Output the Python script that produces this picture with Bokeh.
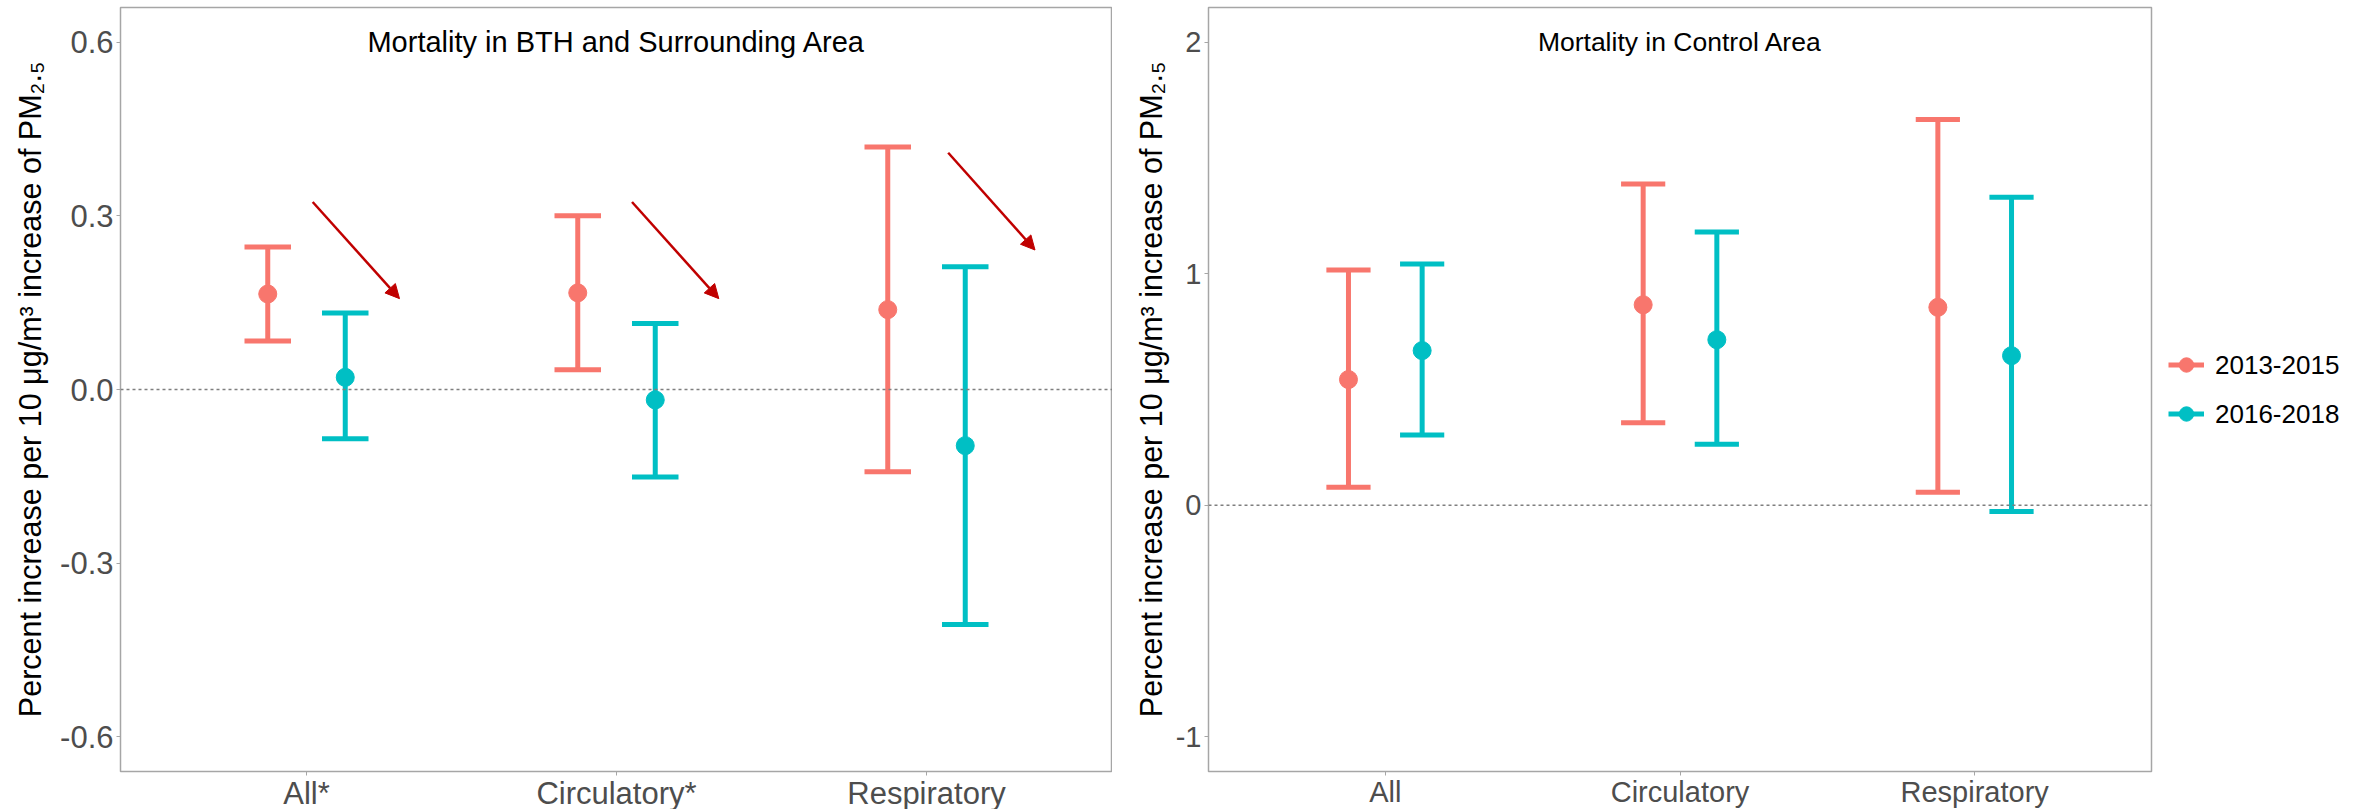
from bokeh.plotting import figure
from bokeh.models import (FactorRange, ColumnDataSource, Span, Arrow, NormalHead,
                          Legend, LegendItem, FixedTicker, Range1d)
from bokeh.layouts import row
from bokeh.transform import dodge
from bokeh.embed import file_html
from bokeh.resources import INLINE
from bokeh.core.properties import value

# ---------------- data ----------------
left_categories = ["All*", "Circulatory*", "Respiratory"]
right_categories = ["All", "Circulatory", "Respiratory"]
periods = ["2013-2015", "2016-2018"]

left_est_2013 = [0.165, 0.167, 0.138]
left_low_2013 = [0.084, 0.034, -0.142]
left_high_2013 = [0.246, 0.300, 0.419]
left_est_2016 = [0.021, -0.018, -0.097]
left_low_2016 = [-0.085, -0.151, -0.406]
left_high_2016 = [0.132, 0.114, 0.212]

right_est_2013 = [0.543, 0.866, 0.855]
right_low_2013 = [0.078, 0.356, 0.056]
right_high_2013 = [1.016, 1.388, 1.666]
right_est_2016 = [0.668, 0.715, 0.646]
right_low_2016 = [0.303, 0.263, -0.027]
right_high_2016 = [1.042, 1.180, 1.330]

left_limits = [-0.6, 0.6]
right_limits = [-1, 2]
left_ticks = [-0.6, -0.3, 0.0, 0.3, 0.6]
left_tick_labels = ["-0.6", "-0.3", "0.0", "0.3", "0.6"]
right_ticks = [-1, 0, 1, 2]
right_tick_labels = ["-1", "0", "1", "2"]

left_title = "Mortality in BTH and Surrounding Area"
right_title = "Mortality in Control Area"
y_label = "Percent increase per 10 \u03bcg/m\u00b3 increase of PM\u2082.\u2085"

# decreasing-trend arrows (annotation), in category-index units (1-based)
arrow_x0 = [1.02, 2.05, 3.07]
arrow_x1 = [1.30, 2.33, 3.35]
arrow_y0 = [0.324, 0.324, 0.409]
arrow_y1 = [0.157, 0.157, 0.241]

# ---------------- style ----------------
FONT = "Liberation Sans"
COLORS = ["#F8766D", "#00BFC4"]
OFFSET = 0.125
CAP = 0.075
BORDER = "#A6A6A6"


def make_panel(categories, series, limits, ticks, tick_labels, title,
               min_left, min_right, frame_width, tick_size, title_size):
    pad = 0.05 * (limits[1] - limits[0])
    p = figure(x_range=FactorRange(*categories, range_padding=0.2 / 3,
                                   range_padding_units="percent"),
               y_range=Range1d(limits[0] - pad, limits[1] + pad),
               frame_width=frame_width, frame_height=764,
               min_border_left=min_left, min_border_right=min_right,
               min_border_top=7, min_border_bottom=38,
               output_backend="svg", toolbar_location=None,
               background_fill_color="white", border_fill_color="white")
    p.xgrid.visible = False
    p.ygrid.visible = False
    p.outline_line_color = BORDER
    p.outline_line_width = 1.5

    p.add_layout(Span(location=0, dimension="width", line_color="#7F7F7F",
                      line_width=1.5, line_dash="3 3"))

    renderers = []
    for i, (est, low, high) in enumerate(series):
        off = -OFFSET if i == 0 else OFFSET
        src = ColumnDataSource(dict(cat=categories, est=est, low=low, high=high))
        seg = p.segment(x0=dodge("cat", off, range=p.x_range), y0="low",
                        x1=dodge("cat", off, range=p.x_range), y1="high",
                        source=src, line_color=COLORS[i], line_width=5)
        p.segment(x0=dodge("cat", off - CAP, range=p.x_range), y0="low",
                  x1=dodge("cat", off + CAP, range=p.x_range), y1="low",
                  source=src, line_color=COLORS[i], line_width=5)
        p.segment(x0=dodge("cat", off - CAP, range=p.x_range), y0="high",
                  x1=dodge("cat", off + CAP, range=p.x_range), y1="high",
                  source=src, line_color=COLORS[i], line_width=5)
        pt = p.scatter(x=dodge("cat", off, range=p.x_range), y="est", source=src,
                       size=18, fill_color=COLORS[i], line_color=COLORS[i])
        renderers.append((seg, pt))

    p.text(x=[categories[1]], y=[limits[1]], text=[title], text_align="center",
           text_baseline="middle", text_font=value(FONT), text_font_size=title_size,
           text_color="black")

    p.yaxis.ticker = FixedTicker(ticks=ticks)
    p.yaxis.major_label_overrides = {t: l for t, l in zip(ticks, tick_labels)}
    for ax in (p.xaxis[0], p.yaxis[0]):
        ax.axis_line_color = None
        ax.major_tick_line_color = BORDER
        ax.major_tick_out = 4
        ax.major_tick_in = 0
        ax.minor_tick_line_color = None
        ax.major_label_text_font = FONT
        ax.major_label_text_font_size = tick_size
        ax.major_label_text_color = "#4D4D4D"
    p.xaxis.major_label_standoff = 0
    p.yaxis.major_label_standoff = 3
    p.yaxis.axis_label = y_label
    p.yaxis.axis_label_text_font = FONT
    p.yaxis.axis_label_text_font_size = "30.5px"
    p.yaxis.axis_label_text_font_style = "normal"
    p.yaxis.axis_label_text_color = "black"
    return p, renderers


p1, _ = make_panel(left_categories,
                   [(left_est_2013, left_low_2013, left_high_2013),
                    (left_est_2016, left_low_2016, left_high_2016)],
                   left_limits, left_ticks, left_tick_labels, left_title,
                   120, 0, 992, "31px", "29px")
p1.yaxis.axis_label_standoff = 10

arrow_src = ColumnDataSource(dict(x0=[x - 0.5 for x in arrow_x0],
                                  x1=[x - 0.5 for x in arrow_x1],
                                  y0=arrow_y0, y1=arrow_y1))
p1.add_layout(Arrow(end=NormalHead(size=14, fill_color="#C00000", line_color="#C00000"),
                    x_start="x0", y_start="y0", x_end="x1", y_end="y1",
                    source=arrow_src, line_color="#C00000", line_width=2.5))

p2, rends = make_panel(right_categories,
                       [(right_est_2013, right_low_2013, right_high_2013),
                        (right_est_2016, right_low_2016, right_high_2016)],
                       right_limits, right_ticks, right_tick_labels, right_title,
                       96, 0, 943, "29px", "26.5px")
p2.yaxis.axis_label_standoff = 5

legend = Legend(items=[LegendItem(label=periods[i], renderers=list(rends[i]))
                       for i in range(2)],
                location="center_left", orientation="vertical")
legend.label_text_font = FONT
legend.label_text_font_size = "26px"
legend.label_text_color = "black"
legend.glyph_width = 36
legend.glyph_height = 40
legend.label_height = 40
legend.spacing = 9
legend.padding = 0
legend.margin = 17
legend.label_standoff = 11
legend.border_line_color = None
legend.background_fill_color = None
p2.add_layout(legend, "right")

layout = row(p1, p2, spacing=0)
open("out.html", "w").write(file_html(layout, INLINE))
